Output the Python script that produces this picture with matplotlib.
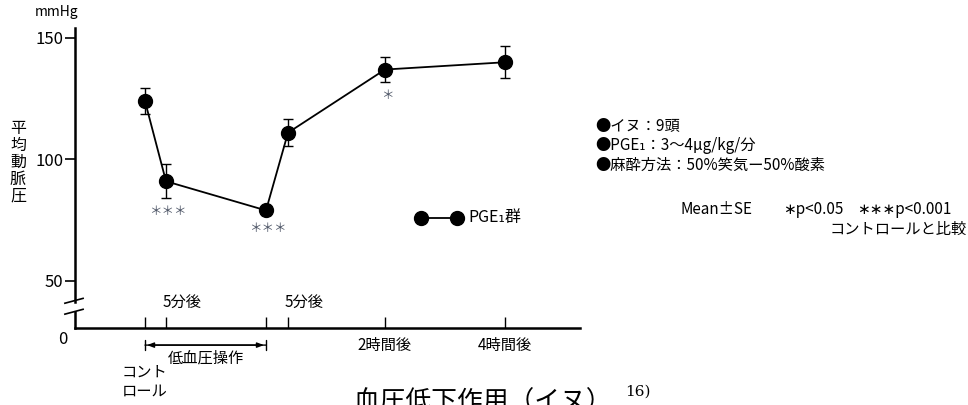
import numpy as np
import matplotlib
matplotlib.use('Agg')
import matplotlib.pyplot as plt
from matplotlib.transforms import blended_transform_factory

plt.rcParams['font.family'] = ['Noto Sans CJK JP', 'DejaVu Sans']

# time points (arbitrary spacing along the axis) and mean arterial pressure
x_pos = [0, 21, 121, 143, 240, 360]
bp_mean = [124, 91, 79, 111, 137, 140]
bp_se = [5.5, 7, 2, 5.5, 5, 6.5]
stars = ['', '＊＊＊', '＊＊＊', '', '＊', '']
tick_text = ['', '5分後', '', '5分後', '2時間後', '4時間後']

W, H = 968, 405
fig = plt.figure(figsize=(W / 100, H / 100), dpi=100)

def px(x, y):
    # pixel position -> figure fraction
    return x / W, 1 - y / H

ax_l, ax_r, ax_t, ax_b = 75, 580, 28, 328
ax = fig.add_axes([ax_l / W, 1 - ax_b / H, (ax_r - ax_l) / W, (ax_b - ax_t) / H])
ax.set_xlim(-70, 435)
ax.set_ylim(30.6, 154.1)

for s in ['top', 'right', 'left']:
    ax.spines[s].set_visible(False)
ax.spines['bottom'].set_linewidth(1.8)

# broken y axis drawn by hand
yt = blended_transform_factory(ax.transAxes, ax.transData)
ax.plot([0, 0], [41.2, 154.1], color='black', lw=1.8, transform=yt, clip_on=False)
ax.plot([0, 0], [30.6, 37.0], color='black', lw=1.8, transform=yt, clip_on=False)
for yb in [41.8, 37.3]:
    ax.plot([-0.02, 0.016], [yb - 1.0, yb + 1.0], color='black', lw=1.2,
            transform=yt, clip_on=False)

ax.set_yticks([50, 100, 150])
ax.tick_params(axis='y', direction='out', length=7, width=1.2, labelsize=12, pad=1.5)
ax.set_xticks(x_pos)
ax.set_xticklabels([''] * len(x_pos))
ax.tick_params(axis='x', direction='in', length=8, width=1.0)

ax.errorbar(x_pos, bp_mean, yerr=bp_se, color='black', lw=1.3, marker='o',
            markersize=10, ecolor='black', elinewidth=1.0, capsize=3.5, capthick=1.0,
            clip_on=False, zorder=3)

for x, y, e, s in zip(x_pos, bp_mean, bp_se, stars):
    if s:
        ax.text(x + 2, y - e - 5.5, s, ha='center', va='center', fontsize=9,
                color='#4d5566')

xt = ax.get_xaxis_transform()
for x, t in zip(x_pos, tick_text):
    if t.startswith('5'):
        ax.text(x + 16, 0.087, t, ha='center', va='center', fontsize=11, transform=xt)
    elif t:
        ax.text(x, -0.057, t, ha='center', va='center', fontsize=11, transform=xt)

# hypotension period bracket
ax.annotate('', xy=(x_pos[0], -0.057), xytext=(x_pos[2], -0.057), xycoords=xt,
            arrowprops=dict(arrowstyle='|-|, widthA=0.35, widthB=0.35', lw=1.0,
                            color='black', shrinkA=0, shrinkB=0), annotation_clip=False)
ax.annotate('', xy=(x_pos[0] + 2, -0.057), xytext=(x_pos[2] - 2, -0.057), xycoords=xt,
            arrowprops=dict(arrowstyle='<|-|>, head_length=0.4, head_width=0.15', lw=1.0,
                            color='black', shrinkA=0, shrinkB=0), annotation_clip=False)
ax.text((x_pos[0] + x_pos[2]) / 2, -0.1, '低血圧操作', ha='center', va='center',
        fontsize=11, transform=xt)
ax.text(x_pos[0] - 23, -0.12, 'コント\nロール', ha='left', va='top', fontsize=11,
        linespacing=1.1, transform=xt)

fig.text(*px(63, 340), '0', ha='center', va='center', fontsize=12)
fig.text(*px(57, 12), 'mmHg', ha='center', va='center', fontsize=10)
fig.text(*px(18, 162), '\n'.join('平均動脈圧'), ha='center', va='center',
         fontsize=11.5, linespacing=1.0)

# legend
ax.plot([0.685, 0.756], [0.367, 0.367], color='black', lw=1.3, marker='o',
        markersize=10, transform=ax.transAxes, clip_on=False)
ax.text(0.778, 0.367, 'PGE₁群', ha='left', va='center', fontsize=11.5,
        transform=ax.transAxes)

notes = ['●イヌ：9頭', '●PGE₁：3～4μg/kg/分', '●麻酔方法：50%笑気ー50%酸素']
for i, t in enumerate(notes):
    fig.text(*px(595, 127 + 19 * i), t, ha='left', va='center', fontsize=11)
fig.text(*px(680, 210), 'Mean±SE', ha='left', va='center', fontsize=11)
fig.text(*px(783, 210), '∗p<0.05', ha='left', va='center', fontsize=11)
fig.text(*px(857, 210), '∗∗∗p<0.001', ha='left', va='center', fontsize=11)
fig.text(*px(967, 229), 'コントロールと比較', ha='right', va='center', fontsize=11)

fig.text(*px(354, 410), '血圧低下作用（イヌ）', ha='left', va='baseline', fontsize=18.5)
fig.text(*px(625, 396), '16)', ha='left', va='baseline', fontsize=11,
         family='DejaVu Serif')

fig.savefig('out.png', dpi=100)
